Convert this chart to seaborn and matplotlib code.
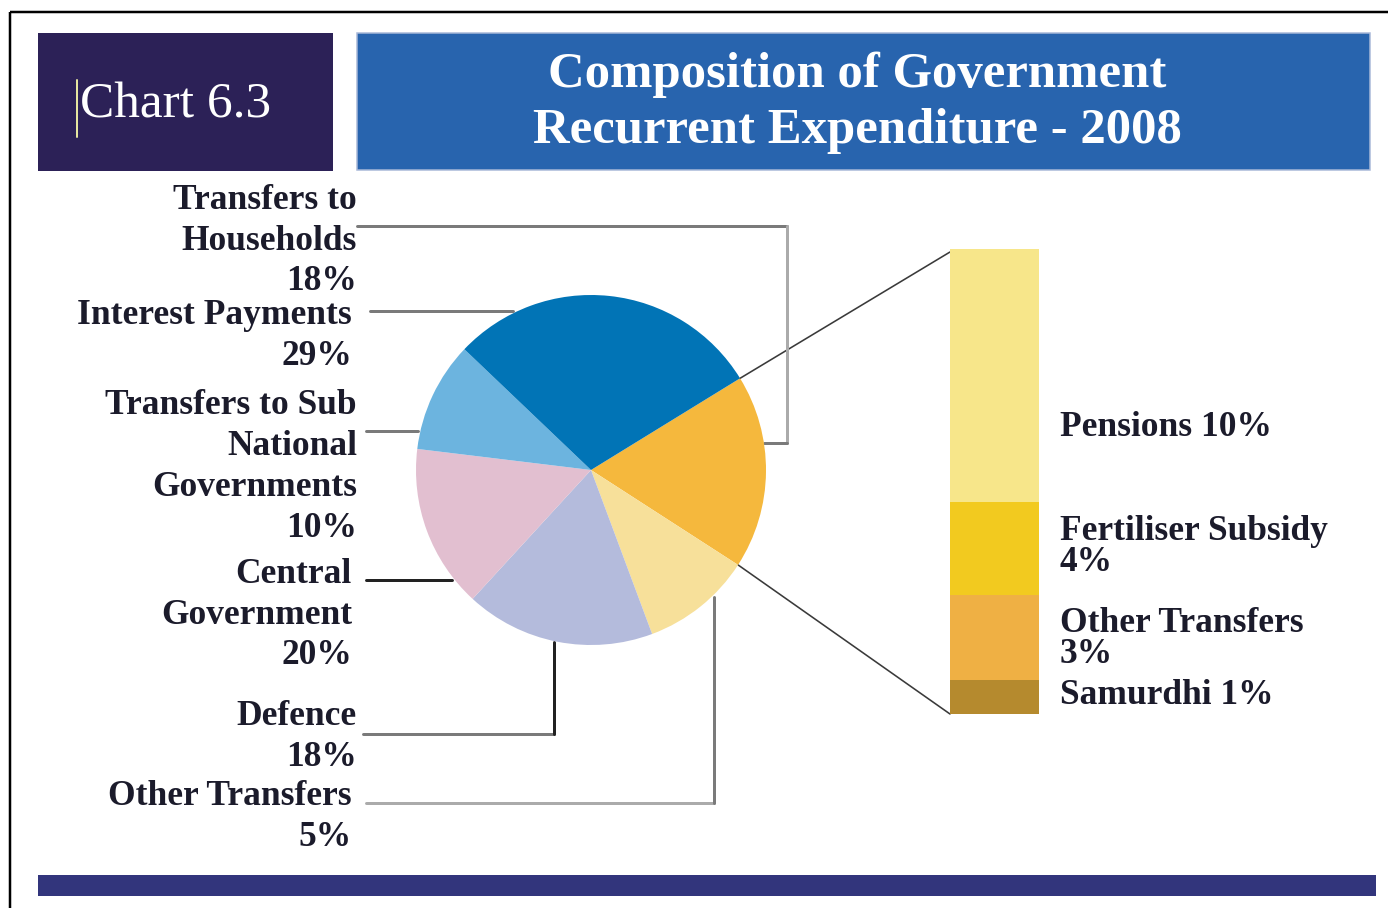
import numpy as np
import matplotlib
matplotlib.use("Agg")
import matplotlib.pyplot as plt
import seaborn as sns
from matplotlib.patches import Rectangle

# ---------------- data ----------------
pie_categories = ["Transfers to Households", "Other Transfers", "Defence",
                  "Central Government", "Transfers to Sub National Governments",
                  "Interest Payments"]
# slice sizes as drawn in the picture (clockwise from the households slice)
pie_shares = [17.9, 10.2, 17.5, 15.1, 10.2, 29.1]
# percentages printed on the labels
pie_label_pct = [18, 5, 18, 20, 10, 29]
pie_label_names = ["Transfers to\nHouseholds", "Other Transfers", "Defence",
                   "Central\nGovernment", "Transfers to Sub\nNational\nGovernments",
                   "Interest Payments"]
pie_colors = ["#f5b83d", "#f7e09a", "#b4bbdc", "#e2bfd0", "#6cb4df", "#0174b6"]

sub_categories = ["Pensions", "Fertiliser Subsidy", "Other Transfers", "Samurdhi"]
sub_shares = [9.8, 3.6, 3.3, 1.3]
sub_label_pct = [10, 4, 3, 1]
sub_label_text = ["Pensions 10%", "Fertiliser Subsidy\n4%", "Other Transfers\n3%", "Samurdhi 1%"]
sub_colors = ["#f7e68a", "#f2ca1f", "#efb044", "#b58a2e"]

title_text = "Composition of Government\nRecurrent Expenditure - 2008"
chart_no = "Chart 6.3"

# ---------------- layout ----------------
W, H = 1388, 908
sns.set_theme(style="white")
plt.rcParams['font.family'] = ['Liberation Serif', 'DejaVu Serif']

fig = plt.figure(figsize=(W / 100, H / 100), dpi=100)
fig.patch.set_facecolor("white")
ax = fig.add_axes([0, 0, 1, 1])
ax.set_xlim(0, W)
ax.set_ylim(H, 0)
ax.axis("off")

PX = 0.72  # points per pixel

# outer frame
ax.plot([10, W], [12, 12], color="black", lw=2.5 * PX, solid_capstyle="butt")
ax.plot([10, 10], [12, H], color="black", lw=2.5 * PX, solid_capstyle="butt")

# header boxes
ax.add_patch(Rectangle((38, 33), 295, 138, facecolor="#2c2157", edgecolor="none"))
ax.add_patch(Rectangle((357, 33), 1013, 137, facecolor="#2864ae", edgecolor="#a8b8d8", lw=1.5 * PX))
ax.plot([77, 77], [80, 137], color="#e6e6a0", lw=2 * PX)
ax.text(80, 105, chart_no, color="white", fontsize=37, ha="left", va="center")
ax.text(857, 103, title_text, color="white", fontsize=36.5, fontweight="bold",
        ha="center", va="center", linespacing=1.3)

# bottom band
ax.add_patch(Rectangle((38, 875), 1338, 21, facecolor="#32357c", edgecolor="none"))

# ---------------- pie ----------------
cx, cy, r = 591, 470, 175
ax_pie = fig.add_axes([(cx - r) / W, (H - cy - r) / H, 2 * r / W, 2 * r / H])
start = 31.6
ax_pie.pie(pie_shares, colors=pie_colors, startangle=start, counterclock=False,
           wedgeprops=dict(linewidth=0))
ax_pie.set_xlim(-1, 1)
ax_pie.set_ylim(-1, 1)
ax_pie.set_aspect("equal")
ax_pie.axis("off")

# ---------------- stacked bar ----------------
bx0, bx1, by0, by1 = 950, 1039, 249, 714
ax_bar = fig.add_axes([bx0 / W, (H - by1) / H, (bx1 - bx0) / W, (by1 - by0) / H])
tops = np.cumsum(sub_shares[::-1])[::-1]
for top, col in zip(tops, sub_colors):
    sns.barplot(x=[0], y=[top], color=col, width=1, saturation=1,
                linewidth=0, ax=ax_bar)
ax_bar.set_xlim(-0.5, 0.5)
ax_bar.set_ylim(0, float(np.sum(sub_shares)))
ax_bar.axis("off")

# connectors from households slice to bar
a1 = np.deg2rad(start)
a2 = np.deg2rad(start - 360 * pie_shares[0] / np.sum(pie_shares))
p1 = (cx + r * np.cos(a1), cy - r * np.sin(a1))
p2 = (cx + r * np.cos(a2), cy - r * np.sin(a2))
ax.plot([p1[0], bx0], [p1[1], by0 + 3], color="#3a3a3a", lw=1.6 * PX)
ax.plot([p2[0], bx0], [p2[1], by1], color="#3a3a3a", lw=1.6 * PX)

# ---------------- labels ----------------
txt_kw = dict(fontsize=25.5, fontweight="bold", color="#1b1b2b", linespacing=1.31)
lab_pos = {  # right edge x, centre y
    "Transfers to Households": (357, 241),
    "Interest Payments": (352, 336),
    "Transfers to Sub National Governments": (357, 467),
    "Central Government": (352, 615),
    "Defence": (357, 737),
    "Other Transfers": (352, 817),
}
for name, nm, pct in zip(pie_categories, pie_label_names, pie_label_pct):
    x, y = lab_pos[name]
    ax.text(x, y, f"{nm}\n{pct}%", ha="right", va="center", multialignment="right", **txt_kw)

# leader lines
g1, g2, dk = "#7a7a7a", "#ababab", "#222222"
lw3 = 3 * PX
ax.plot([357, 787], [226, 226], color=g1, lw=lw3)
ax.plot([787, 787], [226, 443], color=g2, lw=lw3)
ax.plot([787, 764], [443, 443], color=g1, lw=lw3)
ax.plot([370, 513], [311, 311], color=g1, lw=lw3)
ax.plot([366, 418], [431, 431], color=g1, lw=lw3)
ax.plot([366, 452], [580, 580], color=dk, lw=lw3)
ax.plot([363, 554], [734, 734], color=g1, lw=lw3)
ax.plot([554, 554], [734, 642], color=dk, lw=lw3)
ax.plot([366, 714], [803, 803], color=g2, lw=lw3)
ax.plot([714, 714], [803, 597], color=g1, lw=lw3)

# sub-bar labels
sub_pos = [428, 547, 639, 695]
for t, y in zip(sub_label_text, sub_pos):
    ax.text(1060, y, t, ha="left", va="center", fontsize=25.5, fontweight="bold",
            color="#1b1b2b", linespacing=0.9)

fig.savefig("out.png", dpi=100, facecolor="white")
